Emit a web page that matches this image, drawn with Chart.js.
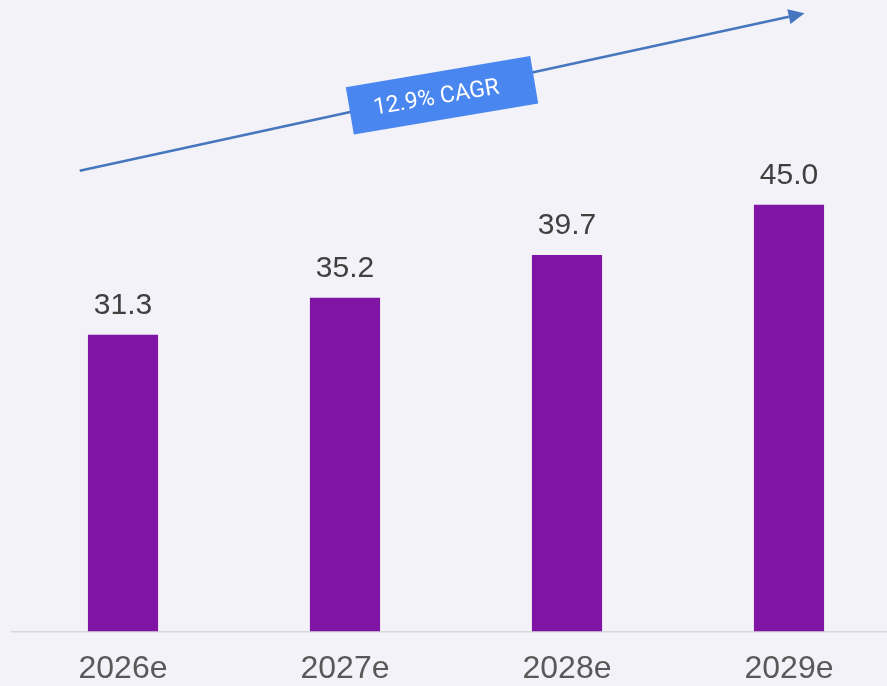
<!DOCTYPE html>
<html>
<head>
<meta charset="utf-8">
<script src="https://cdn.jsdelivr.net/npm/chart.js@4/dist/chart.umd.min.js"></script>
<style>
  html, body { margin: 0; padding: 0; background: #f2f2f8; overflow: hidden; }
  #wrap { width: 887px; height: 686px; overflow: hidden; }
</style>
</head>
<body>
<div id="wrap"><canvas id="chart" width="900" height="706"></canvas></div>
<script>
// données du graphique
const years = ['2026e', '2027e', '2028e', '2029e'];
const values = [31.3, 35.2, 39.7, 45.0];
const cagrLabel = '12.9% CAGR';
// flèche CAGR, en coordonnées de données (index de catégorie, valeur)
const arrowStart = [-0.195, 48.6];
const arrowEnd = [3.07, 65.2];
const boxCenter = [1.437, 56.55];
const yMax = 66.6;

// plugin pour les étiquettes, la flèche et la boîte CAGR
const overlayPlugin = {
  id: 'overlay',
  afterDatasetsDraw(chart) {
    const ctx = chart.ctx;
    const xs = chart.scales.x;
    const ys = chart.scales.y;

    // valeurs au-dessus des barres
    const meta = chart.getDatasetMeta(0);
    ctx.save();
    ctx.fillStyle = '#404040';
    ctx.font = '30px "Liberation Sans", Arial, sans-serif';
    ctx.textAlign = 'center';
    ctx.textBaseline = 'alphabetic';
    meta.data.forEach((bar, i) => {
      ctx.fillText(values[i].toFixed(1), bar.x, bar.y - 21);
    });
    ctx.restore();

    // flèche
    const px = v => xs.left + (xs.width / years.length) * (v + 0.5);
    const x1 = px(arrowStart[0]), y1 = ys.getPixelForValue(arrowStart[1]);
    const x2 = px(arrowEnd[0]), y2 = ys.getPixelForValue(arrowEnd[1]);
    const ang = Math.atan2(y2 - y1, x2 - x1);
    const headLen = 16, headW = 7.5;
    ctx.save();
    ctx.strokeStyle = '#4677be';
    ctx.fillStyle = '#4677be';
    ctx.lineWidth = 2.5;
    ctx.beginPath();
    ctx.moveTo(x1, y1);
    ctx.lineTo(x2 - headLen * Math.cos(ang), y2 - headLen * Math.sin(ang));
    ctx.stroke();
    ctx.translate(x2, y2);
    ctx.rotate(ang);
    ctx.beginPath();
    ctx.moveTo(0, 0);
    ctx.lineTo(-headLen, -headW);
    ctx.lineTo(-headLen, headW);
    ctx.closePath();
    ctx.fill();
    ctx.restore();

    // boîte CAGR
    const cx = px(boxCenter[0]), cy = ys.getPixelForValue(boxCenter[1]);
    ctx.save();
    ctx.translate(cx, cy);
    ctx.rotate(-9.6 * Math.PI / 180);
    ctx.fillStyle = '#4a86f0';
    ctx.fillRect(-93.5, -24, 187, 48);
    ctx.fillStyle = '#ffffff';
    ctx.font = '23px Roboto, "Liberation Sans", sans-serif';
    ctx.textAlign = 'center';
    ctx.textBaseline = 'middle';
    ctx.fillText(cagrLabel, -6, 2);
    ctx.restore();
  }
};

const ctx = document.getElementById('chart').getContext('2d');
new Chart(ctx, {
  type: 'bar',
  data: {
    labels: years,
    datasets: [{
      data: values,
      backgroundColor: '#8014a4',
      borderWidth: 0,
      barPercentage: 0.316,
      categoryPercentage: 1
    }]
  },
  options: {
    responsive: false,
    animation: false,
    layout: { padding: { left: 12, top: 0, right: 0, bottom: 0 } },
    plugins: {
      legend: { display: false },
      tooltip: { enabled: false }
    },
    scales: {
      x: {
        grid: { display: false, drawTicks: false },
        border: { display: true, color: '#d9d9d9', width: 1.5 },
        ticks: {
          color: '#595959',
          padding: 18,
          font: { family: '"Liberation Sans", Arial, sans-serif', size: 32, lineHeight: 1.2 }
        }
      },
      y: {
        display: false,
        min: 0,
        max: yMax
      }
    }
  },
  plugins: [overlayPlugin]
});
</script>
</body>
</html>
